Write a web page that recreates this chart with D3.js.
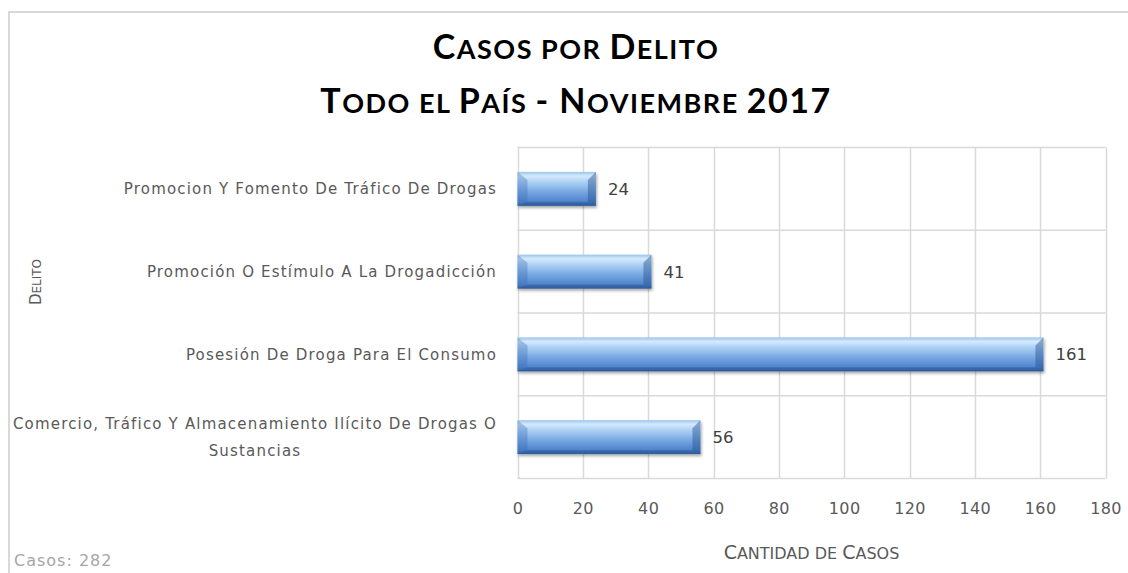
<!DOCTYPE html>
<html><head><meta charset="utf-8">
<script src="https://cdn.jsdelivr.net/npm/d3@7"></script>
<style>
html,body{margin:0;padding:0;background:#fff;}
svg{display:block;}
</style></head>
<body>
<svg id="chart" width="1128" height="573"></svg>
<script>
const categories = [
  "Promocion Y Fomento De Tráfico De Drogas",
  "Promoción O Estímulo A La Drogadicción",
  "Posesión De Droga Para El Consumo",
  "Comercio, Tráfico Y Almacenamiento Ilícito De Drogas O Sustancias"
];
const categoryLines = [
  ["Promocion Y Fomento De Tráfico De Drogas"],
  ["Promoción O Estímulo A La Drogadicción"],
  ["Posesión De Droga Para El Consumo"],
  ["Comercio, Tráfico Y Almacenamiento Ilícito De Drogas O", "Sustancias"]
];
const values = [24, 41, 161, 56];
const xTicks = [0, 20, 40, 60, 80, 100, 120, 140, 160, 180];
const titleLines = ["Casos por Delito", "Todo el País - Noviembre 2017"];
const xTitle = "Cantidad de Casos";
const yTitle = "Delito";
const footer = "Casos: 282";

const svg = d3.select("#chart");
const W = 1128, H = 573;
const plot = {left: 517.5, right: 1105.5, top: 147.5, bottom: 478.5};
const LBL = "'DejaVu Sans',sans-serif";

// manual small caps: lowercase letters drawn as uppercase at a smaller size
function smallCaps(textSel, str, bigSize, smallSize) {
  const runs = [];
  for (const ch of str) {
    const isLower = ch !== ch.toUpperCase();
    const isSpace = ch === " ";
    const kind = isSpace && runs.length ? runs[runs.length-1].kind : (isLower ? "s" : "b");
    if (runs.length && runs[runs.length-1].kind === kind) runs[runs.length-1].t += ch;
    else runs.push({kind, t: ch});
  }
  runs.forEach(r => textSel.append("tspan")
    .attr("font-size", r.kind === "s" ? smallSize : bigSize)
    .text(r.kind === "s" ? r.t.toUpperCase() : r.t));
}

// defs
const defs = svg.append("defs");
const g1 = defs.append("linearGradient").attr("id","barGrad").attr("x1",0).attr("y1",0).attr("x2",0).attr("y2",1);
[[0,"#9cc3ee"],[0.12,"#d4eafd"],[0.3,"#acd0f5"],[0.6,"#75a6e0"],[0.88,"#4f83cc"],[1,"#32609f"]]
  .forEach(([o,c])=>g1.append("stop").attr("offset",o).attr("stop-color",c));
const f = defs.append("filter").attr("id","shadow").attr("x","-5%").attr("y","-20%").attr("width","110%").attr("height","160%");
f.append("feGaussianBlur").attr("in","SourceAlpha").attr("stdDeviation",1.5);
f.append("feOffset").attr("dx",1).attr("dy",2).attr("result","ob");
f.append("feComponentTransfer").append("feFuncA").attr("type","linear").attr("slope",0.35);
const fm = f.append("feMerge"); fm.append("feMergeNode"); fm.append("feMergeNode").attr("in","SourceGraphic");

// outer border
svg.append("rect").attr("x",9).attr("y",12).attr("width",W+20).attr("height",H+20)
  .attr("fill","#fff").attr("stroke","#d9d9d9").attr("stroke-width",2);

const x = d3.scaleLinear().domain([0,180]).range([plot.left, plot.right]);
const y = d3.scaleBand().domain(categories).range([plot.top, plot.bottom]).paddingInner(0.59).paddingOuter(0.295);
const yGrid = d3.scaleBand().domain(categories).range([plot.top, plot.bottom]);

// gridlines
const grid = svg.append("g");
grid.selectAll("line.v").data(xTicks).join("line")
  .attr("x1",d=>Math.round(x(d))+0.5).attr("x2",d=>Math.round(x(d))+0.5)
  .attr("y1",plot.top).attr("y2",plot.bottom)
  .attr("stroke","#d9d9d9").attr("stroke-width",1.5);
const hLines = categories.map(c=>yGrid(c)).concat([plot.bottom]);
grid.selectAll("line.h").data(hLines).join("line")
  .attr("x1",plot.left).attr("x2",plot.right)
  .attr("y1",d=>d).attr("y2",d=>d)
  .attr("stroke","#d9d9d9").attr("stroke-width",1.5);

// bars
const bars = svg.append("g");
const bh = y.bandwidth();
categories.forEach((c,i)=>{
  const x0 = x(0), x1 = x(values[i]), y0 = y(c);
  const b = bars.append("g").attr("filter","url(#shadow)");
  b.append("rect").attr("x",x0).attr("y",y0).attr("width",x1-x0).attr("height",bh).attr("fill","url(#barGrad)");
  b.append("polygon").attr("points",`${x0},${y0} ${x0+10},${y0+8} ${x0+10},${y0+bh-4} ${x0},${y0+bh}`)
    .attr("fill","#3a6cb5").attr("opacity",0.35);
  b.append("polygon").attr("points",`${x1},${y0} ${x1-8},${y0+8} ${x1-8},${y0+bh-4} ${x1},${y0+bh}`)
    .attr("fill","#24528f").attr("opacity",0.45);
  b.append("polygon").attr("points",`${x0},${y0+bh} ${x0+10},${y0+bh-4} ${x1-8},${y0+bh-4} ${x1},${y0+bh}`)
    .attr("fill","#24528f").attr("opacity",0.4);
});

// value labels
svg.append("g").selectAll("text").data(categories).join("text")
  .attr("x",(c,i)=>x(values[i])+12)
  .attr("y",c=>y(c)+bh/2)
  .attr("dy","0.36em")
  .attr("font-family",LBL)
  .attr("font-size",16.5).attr("fill","#404040")
  .text((c,i)=>values[i]);

// x tick labels via axis
const xAxis = svg.append("g").attr("transform",`translate(0,${plot.bottom+30})`)
  .call(d3.axisBottom(x).tickValues(xTicks).tickSize(0).tickPadding(0));
xAxis.select(".domain").remove();
xAxis.selectAll("text").attr("font-family",LBL).attr("letter-spacing","0.4px")
  .attr("font-size",16).attr("fill","#595959").attr("dy","0.36em").attr("y",0);

// category labels
const cl = svg.append("g");
categories.forEach((c,i)=>{
  const lines = categoryLines[i];
  const lh = 27;
  const cy = yGrid(c) + yGrid.bandwidth()/2;
  const t = cl.append("text")
    .attr("font-family",LBL)
    .attr("font-size",15).attr("fill","#595959").attr("letter-spacing","1.18px");
  lines.forEach((ln,j)=>{
    const tsp = t.append("tspan").attr("y", cy + (j-(lines.length-1)/2)*lh).attr("dy","0.36em").text(ln);
    if (j===0) tsp.attr("x",497).attr("text-anchor","end");
    else tsp.attr("x",255).attr("text-anchor","middle");
  });
});

// title
titleLines.forEach((ln,i)=>{
  const t = svg.append("text").attr("x",576).attr("y",[47,101][i]).attr("dy","0.36em")
    .attr("text-anchor","middle").attr("font-size",34)
    .attr("font-family","Lato, 'Open Sans', sans-serif").attr("font-weight","bold")
    .attr("fill","#000").attr("letter-spacing","1.5px");
  smallCaps(t, ln, 34, 27);
});

// axis titles
const xt = svg.append("text").attr("x",(plot.left+plot.right)/2).attr("y",552).attr("dy","0.36em")
  .attr("font-size",19)
  .attr("text-anchor","middle").attr("font-family",LBL).attr("fill","#595959");
smallCaps(xt, xTitle, 19, 16);
const yt = svg.append("text").attr("transform","translate(36,282) rotate(-90)").attr("dy","0.36em")
  .attr("font-size",15)
  .attr("text-anchor","middle").attr("font-family",LBL).attr("fill","#595959");
smallCaps(yt, yTitle, 15, 12);

// footer
svg.append("text").attr("x",14).attr("y",560).attr("dy","0.36em")
  .attr("font-family",LBL).attr("letter-spacing","1px")
  .attr("font-size",16).attr("fill","#a6a6a6").text(footer);
</script>
</body></html>
